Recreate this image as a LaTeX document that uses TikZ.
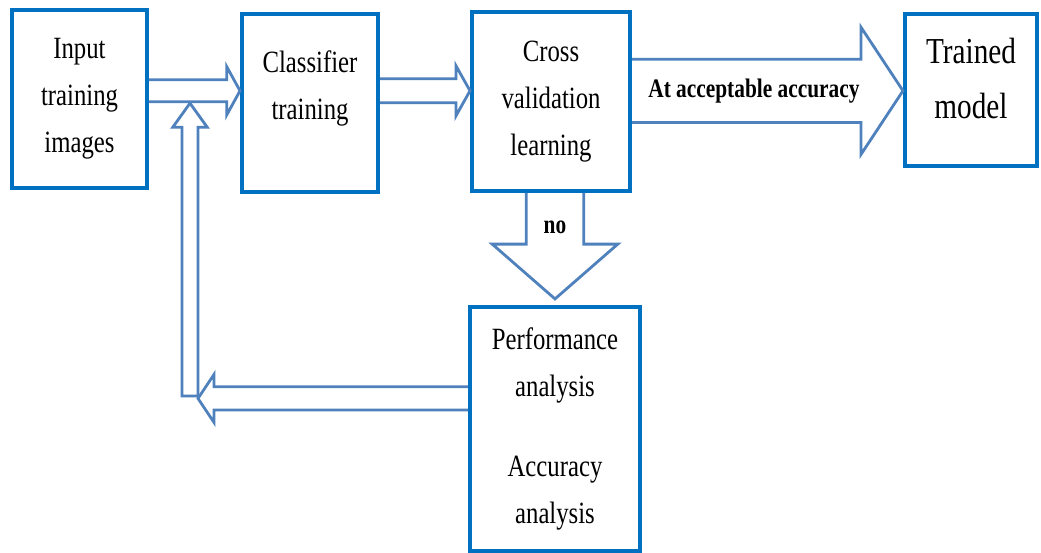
\documentclass[tikz,border=0pt]{standalone}
\usepackage{fontspec}
\setmainfont[FakeStretch=0.8]{Liberation Serif}
\usetikzlibrary{calc,positioning}

\definecolor{boxblue}{RGB}{0,112,192}
\definecolor{flowblue}{RGB}{79,129,189}

\begin{document}
\begin{tikzpicture}[
  block/.style={draw=boxblue, line width=0.1cm, fill=white, align=center, font=\fontsize{22}{33.4}\selectfont},
  blocktext/.style={align=center, font=\fontsize{22}{33.4}\selectfont},
  hollow/.style args={#1/#2/#3}{draw=flowblue, line width=0.07cm, to path={
    let \p1=($(\tikztotarget)!#3!(\tikztostart)$) in
    ($(\tikztostart)!#1!90:(\tikztotarget)$) -- ($(\p1)!#1!90:(\tikztotarget)$)
    -- ($(\p1)!#2!90:(\tikztotarget)$) -- (\tikztotarget)
    -- ($(\p1)!#2!-90:(\tikztotarget)$) -- ($(\p1)!#1!-90:(\tikztotarget)$)
    -- ($(\tikztostart)!#1!-90:(\tikztotarget)$)}},
  tag/.style={font=\bfseries\fontsize{19}{22}\selectfont}
]
\path[use as bounding box, fill=white] (0,0) rectangle (26.025,-13.825);

\node[block, minimum width=3.375cm, minimum height=4.45cm] (in) at (1.9875,-2.475) {Input\\training\\images};
\node[block, minimum width=3.4cm, minimum height=4.45cm, right=2.275cm of in, yshift=-0.1cm] (clf) {};
\node[blocktext] (clf-txt) at ([yshift=0.375cm]clf.center) {Classifier\\training};
\node[block, minimum width=3.95cm, minimum height=4.475cm, right=2.25cm of clf, yshift=0.04cm] (cross) {Cross\\validation\\learning};
\node[block, minimum width=3.3cm, minimum height=3.8cm, right=6.775cm of cross, yshift=0.29cm] (trained) {};
\node[blocktext, font=\fontsize{26}{39}\selectfont] (trained-txt) at ([yshift=0.275cm]trained.center) {Trained\\model};
\node[block, minimum width=4.25cm, minimum height=6.1cm, below=2.8cm of cross, xshift=0.1cm] (perf)
  {Performance\\analysis\\[0.825cm]Accuracy\\analysis};

% main flow
\coordinate (axis) at (0,-2.27);
\draw[hollow=0.275cm/0.6cm/0.33cm] (in.east |- axis) to (clf.west |- axis);
\draw[hollow=0.3cm/0.625cm/0.35cm] (clf.east |- axis) to (cross.west |- axis);
\draw[hollow=0.79cm/1.59cm/1.05cm] (cross.east |- axis) to (trained.west |- axis);
\node[tag] (acc) at ($(cross.east |- axis)!0.45!(trained.west |- axis)$) {At acceptable accuracy};

% retry loop
\coordinate (drop) at ([yshift=0.15cm]perf.north);
\draw[hollow=0.72cm/1.57cm/1.37cm] (cross.south -| drop) to (drop);
\node[tag] (no) at ([yshift=-0.85cm]cross.south -| perf.north) {no};

\coordinate (turn) at (4.75,-9.9);
\coordinate (back) at (4.95,-9.96);
\coordinate (join) at (4.75,-2.58);
\draw[hollow=0.29cm/0.6cm/0.4cm] (perf.west |- back) to (back);
\draw[hollow=0.2cm/0.43cm/0.6cm] (turn) to (join) -- cycle;

\end{tikzpicture}
\end{document}
